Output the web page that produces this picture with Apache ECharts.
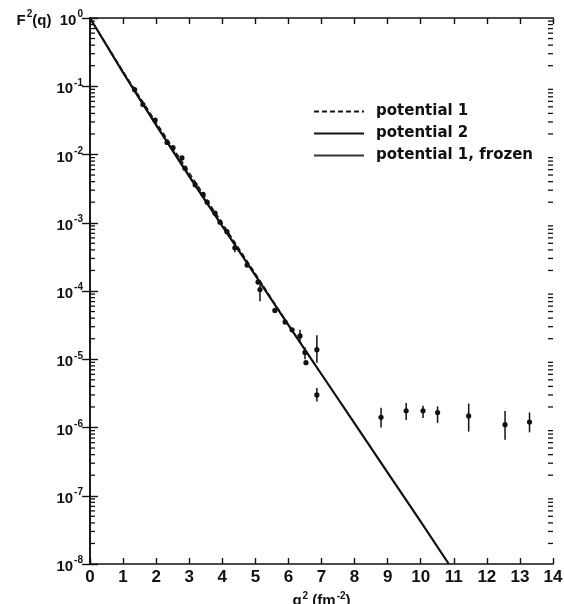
<!DOCTYPE html>
<html>
<head>
<meta charset="utf-8">
<script src="https://cdn.jsdelivr.net/npm/echarts@6/dist/echarts.min.js"></script>
<style>
html,body{margin:0;padding:0;background:#fff;}
#c{width:564px;height:604px;}
</style>
</head>
<body>
<div id="c"></div>
<script>
// ---- data ----
const xTicks = [0,1,2,3,4,5,6,7,8,9,10,11,12,13,14];
const yDecades = [1e0,1e-1,1e-2,1e-3,1e-4,1e-5,1e-6,1e-7,1e-8];

// theoretical curves
const q2Long = [0,1,2,3,4,5,6,7,8,9,10,10.85];
const pot2 = [1, 0.158, 0.0269, 4.79e-3, 8.91e-4, 1.70e-4, 3.16e-5, 6.03e-6, 1.15e-6, 2.19e-7, 4.17e-8, 1e-8];
const q2Short = [0,1,2,3,4,5,6,7];
const pot1 = [1, 0.165, 0.0295, 5.4e-3, 9.8e-4, 1.8e-4, 3.2e-5, 6.0e-6];
const pot1Frozen = [1, 0.160, 0.028, 5.0e-3, 9.2e-4, 1.72e-4, 3.15e-5, 5.9e-6];

// experimental points (q^2, F^2, error low, error high)
const expQ2 = [1.35,1.60,1.97,2.33,2.51,2.78,2.87,3.18,3.42,3.54,3.78,3.93,4.14,4.38,4.75,5.08,5.14,5.59,5.90,6.11,6.35,6.50,6.53,6.86,6.86,8.80,9.56,10.07,10.51,11.45,12.55,13.29];
const expF  = [8.9e-2,5.4e-2,3.2e-2,1.5e-2,1.26e-2,8.9e-3,6.3e-3,3.6e-3,2.6e-3,2.0e-3,1.38e-3,1.02e-3,7.4e-4,4.3e-4,2.4e-4,1.35e-4,1.05e-4,5.2e-5,3.5e-5,2.7e-5,2.2e-5,1.26e-5,8.9e-6,1.38e-5,3.0e-6,1.41e-6,1.76e-6,1.76e-6,1.66e-6,1.48e-6,1.10e-6,1.20e-6];
const expLo = [null,null,null,null,null,null,null,null,null,null,null,null,null,3.7e-4,null,null,7.1e-5,null,null,null,1.74e-5,1.0e-5,null,8.9e-6,2.4e-6,1.00e-6,1.29e-6,1.38e-6,1.17e-6,0.87e-6,0.66e-6,0.85e-6];
const expHi = [null,null,null,null,null,null,null,null,null,null,null,null,null,5.0e-4,null,null,1.26e-4,null,null,null,2.7e-5,1.5e-5,null,2.24e-5,3.8e-6,1.95e-6,2.29e-6,2.09e-6,2.04e-6,2.24e-6,1.74e-6,1.66e-6];

// log minor tick marks (2..9 within each decade), on both frame sides
const minorMult = [2,3,4,5,6,7,8,9];
const minorTicks = [];
for (let d = 1; d < yDecades.length; d++) {
  minorMult.forEach(m => minorTicks.push(m * yDecades[d]));
}
const frameSides = [0, 14];

const FONT = "'Liberation Sans', Arial, sans-serif";
const LFONT = "'DejaVu Sans', sans-serif";

const chart = echarts.init(document.getElementById('c'), null, {renderer: 'canvas'});

function yLabel(v) {
  const e = Math.round(Math.log10(v));
  if (e === 0) return '{b|F}{s|2}{b|(q)  10}{s|0}';
  return '{b|10}{s|-' + (-e) + '}';
}

const rich = {
  b: {fontFamily: FONT, fontWeight: 'bold', fontSize: 15, color: '#111', padding: [6,0,0,0]},
  s: {fontFamily: FONT, fontWeight: 'bold', fontSize: 10, color: '#111', padding: [0,0,7,1]}
};

const minorData = [];
frameSides.forEach(sx => minorTicks.forEach(v => minorData.push([sx, v])));

const option = {
  animation: false,
  backgroundColor: '#ffffff',
  grid: {left: 90, right: 11, top: 18, bottom: 40, containLabel: false, outerBoundsMode: 'none'},
  legend: {
    orient: 'vertical',
    left: 308, top: 99,
    itemWidth: 50, itemHeight: 14, itemGap: 7,
    itemStyle: {opacity: 0},
    textStyle: {fontFamily: LFONT, fontWeight: 'bold', fontSize: 15, color: '#111', padding: [0,0,0,7]},
    data: ['potential 1', 'potential 2', 'potential 1, frozen']
  },
  xAxis: [
    {
      type: 'value', min: 0, max: 14, interval: 1, position: 'bottom',
      axisLine: {lineStyle: {color: '#111', width: 1.6}},
      axisTick: {inside: true, length: 6, lineStyle: {color: '#111', width: 1.4}},
      axisLabel: {margin: 5, fontFamily: FONT, fontWeight: 'bold', fontSize: 17, color: '#111'},
      splitLine: {show: false},
      name: '{b|q}{s|2}{b| (fm}{s|-2}{b|)}',
      nameLocation: 'middle', nameGap: 21,
      nameTextStyle: {
        rich: {
          b: {fontFamily: FONT, fontWeight: 'bold', fontSize: 15, color: '#111', padding: [5,0,0,0]},
          s: {fontFamily: FONT, fontWeight: 'bold', fontSize: 10, color: '#111', padding: [0,0,5,1]}
        }
      }
    },
    {
      type: 'value', min: 0, max: 14, interval: 1, position: 'top',
      axisLine: {lineStyle: {color: '#111', width: 1.6}},
      axisTick: {inside: true, length: 6, lineStyle: {color: '#111', width: 1.4}},
      axisLabel: {show: false},
      splitLine: {show: false}
    }
  ],
  yAxis: [
    {
      type: 'log', logBase: 10, min: 1e-8, max: 1, splitNumber: 8, position: 'left',
      axisLine: {lineStyle: {color: '#111', width: 1.6}},
      axisTick: {inside: true, length: 8, lineStyle: {color: '#111', width: 1.4}},
      axisLabel: {margin: 7, formatter: yLabel, rich: rich},
      splitLine: {show: false},
      minorTick: {show: false}
    },
    {
      type: 'log', logBase: 10, min: 1e-8, max: 1, splitNumber: 8, position: 'right',
      axisLine: {lineStyle: {color: '#111', width: 1.6}},
      axisTick: {inside: true, length: 8, lineStyle: {color: '#111', width: 1.4}},
      axisLabel: {show: false},
      splitLine: {show: false}
    }
  ],
  series: [
    {
      name: 'potential 1', type: 'line', symbol: 'none',
      data: q2Short.map((x, i) => [x, pot1[i]]),
      lineStyle: {color: '#111', width: 1.5, type: [5, 3]},
      itemStyle: {color: '#111'}, z: 3
    },
    {
      name: 'potential 2', type: 'line', symbol: 'none',
      data: q2Long.map((x, i) => [x, pot2[i]]),
      lineStyle: {color: '#111', width: 2.2, type: 'solid'},
      itemStyle: {color: '#111'}, z: 4
    },
    {
      name: 'potential 1, frozen', type: 'line', symbol: 'none',
      data: q2Short.map((x, i) => [x, pot1Frozen[i]]),
      lineStyle: {color: '#333', width: 1, type: 'solid'},
      itemStyle: {color: '#333'}, z: 3
    },
    {
      name: 'data', type: 'custom', silent: true, clip: false, z: 5,
      xAxisIndex: 0, yAxisIndex: 0,
      encode: {x: 0, y: 1},
      data: expQ2.map((x, i) => [x, expF[i], expLo[i] == null ? '-' : expLo[i], expHi[i] == null ? '-' : expHi[i]]),
      renderItem: function (params, api) {
        const x = api.value(0), y = api.value(1), lo = api.value(2), hi = api.value(3);
        const c = api.coord([x, y]);
        const children = [{
          type: 'circle', shape: {cx: c[0], cy: c[1], r: 2.6},
          style: {fill: '#111'}
        }];
        if (!isNaN(lo) && !isNaN(hi)) {
          const a = api.coord([x, lo]), b = api.coord([x, hi]);
          children.push({type: 'line', shape: {x1: a[0], y1: a[1], x2: b[0], y2: b[1]},
            style: {stroke: '#111', lineWidth: 1.5}});
        }
        return {type: 'group', children: children};
      }
    },
    {
      name: 'minor', type: 'custom', silent: true, clip: false, z: 6,
      xAxisIndex: 0, yAxisIndex: 0,
      encode: {x: 0, y: 1},
      data: minorData,
      renderItem: function (params, api) {
        const sx = api.value(0), v = api.value(1);
        const p = api.coord([sx, v]);
        const dir = sx < 7 ? 1 : -1;
        return {type: 'line', shape: {x1: p[0], y1: p[1], x2: p[0] + dir * 5, y2: p[1]},
          style: {stroke: '#111', lineWidth: 1.3}};
      }
    }
  ]
};
chart.setOption(option);
</script>
</body>
</html>
